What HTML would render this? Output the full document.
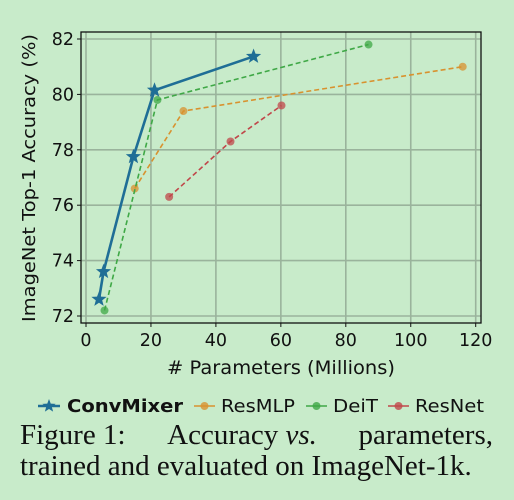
<!DOCTYPE html>
<html><head><meta charset="utf-8"><style>
body{margin:0;background:#c8ebca;width:514px;height:500px;overflow:hidden}
svg text{font-family:"DejaVu Sans","Liberation Sans",sans-serif;fill:#111}
#cap{position:absolute;left:20px;top:420px;width:473px;font-family:"Liberation Serif",serif;font-size:29px;line-height:31px;color:#111;white-space:nowrap}
</style></head><body>
<svg id="chart" width="514" height="420" style="position:absolute;left:0;top:0"></svg>
<div id="cap"><div style="display:flex;justify-content:space-between"><span>Figure 1:</span><span>Accuracy <i>vs.</i></span><span>parameters,</span></div>trained and evaluated on ImageNet-1k.</div>
<script>
const xTicks=[0,20,40,60,80,100,120];
const yTicks=[72,74,76,78,80,82];
const convX=[4.0,5.4,14.6,21.1,51.6];
const convY=[72.6,73.6,77.75,80.15,81.37];
const resmlpX=[15,30,116];
const resmlpY=[76.6,79.4,81.0];
const deitX=[5.7,22,87];
const deitY=[72.2,79.8,81.8];
const resnetX=[25.6,44.5,60.2];
const resnetY=[76.3,78.3,79.6];
const NS="http://www.w3.org/2000/svg";
const svg=document.getElementById('chart');
const L=81,R=481,T=32,B=323;
const X=v=>86+v*(475.7-86)/120;
const Y=v=>316-(v-72)*(316-39)/10;
function mk(t,a,p){const e=document.createElementNS(NS,t);for(const k in a)e.setAttribute(k,a[k]);(p||svg).appendChild(e);return e;}
const bg=mk('rect',{x:L,y:T,width:R-L,height:B-T,fill:'#c8ebca'});


xTicks.forEach(v=>{
 const g=mk('line',{x1:X(v),x2:X(v),y1:T,y2:B,stroke:'#9ab39c','stroke-width':1.6});
 
 
 mk('line',{x1:X(v),x2:X(v),y1:B,y2:B+4,stroke:'#111','stroke-width':1});
 const t=mk('text',{x:X(v),y:B+23,'text-anchor':'middle','font-size':17.5});
 t.textContent=v;
 
 
});
yTicks.forEach(v=>{
 const g=mk('line',{x1:L,x2:R,y1:Y(v),y2:Y(v),stroke:'#9ab39c','stroke-width':1.6});
 
 
 mk('line',{x1:L-4,x2:L,y1:Y(v),y2:Y(v),stroke:'#111','stroke-width':1});
 const t=mk('text',{x:L-7,y:Y(v)+6,'text-anchor':'end','font-size':17.5});
 t.textContent=v;
 
 
});
const fr=mk('rect',{x:L,y:T,width:R-L,height:B-T,fill:'none',stroke:'#111','stroke-width':1.3});


function pts(xs,ys){return xs.map((x,i)=>X(x)+','+Y(ys[i])).join(' ');}
function dashed(xs,ys,c,name){
 const g=mk('g',{});
 
 
 mk('polyline',{points:pts(xs,ys),fill:'none',stroke:c,'stroke-width':1.6,'stroke-dasharray':'5,3'},g);
 xs.forEach((x,i)=>{const c0=mk('circle',{cx:X(x),cy:Y(ys[i]),r:4,fill:c,'fill-opacity':0.75},g);
 
 });
}
dashed(resnetX,resnetY,'#c0474a','resnet-series');
dashed(resmlpX,resmlpY,'#d8922f','resmlp-series');
dashed(deitX,deitY,'#3fa846','deit-series');
function star(cx,cy,r,p,c){let s='';for(let i=0;i<10;i++){const a=-Math.PI/2+i*Math.PI/5,rr=i%2?r*0.42:r;s+=(cx+rr*Math.cos(a))+','+(cy+rr*Math.sin(a))+' ';}
 return mk('polygon',{points:s,fill:c},p);}
const cg=mk('g',{});


mk('polyline',{points:pts(convX,convY),fill:'none',stroke:'#1f6e96','stroke-width':2.6},cg);
convX.forEach((x,i)=>{const s=star(X(x),Y(convY[i]),8,cg,'#1f6e96');
 
 });
const yt=mk('text',{x:0,y:0,'font-size':18,'text-anchor':'middle',textLength:288,lengthAdjust:'spacingAndGlyphs',transform:'translate(35,178) rotate(-90)'});
yt.textContent='ImageNet Top-1 Accuracy (%)';


const xt=mk('text',{x:281,y:374,'font-size':19,'text-anchor':'middle',textLength:228,lengthAdjust:'spacingAndGlyphs'});
xt.textContent='# Parameters (Millions)';


// legend
const lg=mk('g',{});


const e1=mk('g',{},lg);


mk('line',{x1:38,x2:60,y1:406,y2:406,stroke:'#1f6e96','stroke-width':2.5},e1);
star(49,406,7,e1,'#1f6e96');
const t1=mk('text',{x:67,y:412,'font-size':18,'font-weight':'bold',textLength:116,lengthAdjust:'spacingAndGlyphs'},e1);t1.textContent='ConvMixer';
[['ResMLP','#d8922f',194,221,74],['DeiT','#3fa846',306,333,45],['ResNet','#c0474a',388,415,69]].forEach(([n,c,x0,tx,w])=>{
 const e=mk('g',{},lg);
 
 
 mk('line',{x1:x0,x2:x0+21,y1:406,y2:406,stroke:c,'stroke-width':1.6},e);
 mk('circle',{cx:x0+10.5,cy:406,r:4,fill:c,'fill-opacity':0.8},e);
 const t=mk('text',{x:tx,y:412,'font-size':18,textLength:w,lengthAdjust:'spacingAndGlyphs'},e);t.textContent=n;
});
</script>
</body></html>
